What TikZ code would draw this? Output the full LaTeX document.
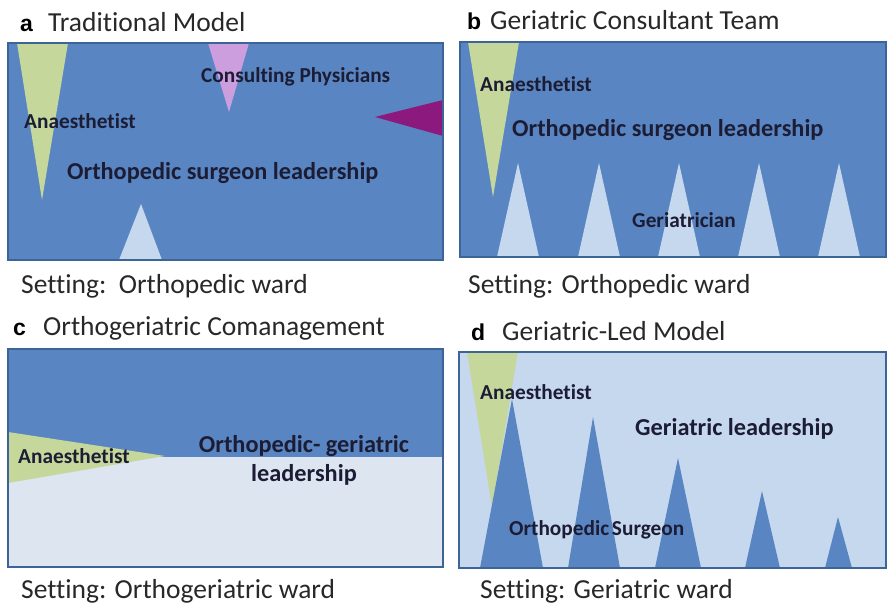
\documentclass[tikz,border=0pt]{standalone}
\usepackage{fontspec}
\setmainfont[Ligatures=NoCommon]{Carlito}
\newfontfamily\letterfont{Liberation Sans}
\definecolor{mblue}{RGB}{89,134,194}
\definecolor{bord}{RGB}{60,100,150}
\definecolor{lblue}{RGB}{198,216,238}
\definecolor{pale}{RGB}{221,229,241}
\definecolor{grn}{RGB}{197,215,155}
\definecolor{lav}{RGB}{204,158,222}
\definecolor{mag}{RGB}{140,26,126}
\definecolor{navy}{RGB}{28,28,52}
\definecolor{ttl}{RGB}{40,40,40}
\tikzset{
  panel/.style={draw=bord, line width=1.2pt},
  lab/.style={inner sep=0pt, anchor=base west, text=navy, font=\bfseries\fontsize{21.3}{24}\selectfont},
  big/.style={inner sep=0pt, anchor=base west, text=navy, font=\bfseries\fontsize{24.3}{28}\selectfont},
  ttlt/.style={inner sep=0pt, anchor=base west, text=ttl, font=\fontsize{27.5}{30}\selectfont},
  lett/.style={inner sep=0pt, anchor=base west, text=black, font=\letterfont\bfseries\fontsize{23}{26}\selectfont},
}
\begin{document}
\begin{tikzpicture}[x=1pt,y=-1pt]
\useasboundingbox (0,0) rectangle (887,607);
% ---------- panel a
\node[lett] (la) at (20,32) {a};
\node[ttlt] (ta) at (48,32) {Traditional Model};
\fill[mblue] (8,43) rectangle (443,260);
\fill[grn] (17,43) -- (68,43) -- (42,200) -- cycle;
\fill[lav] (208,43) -- (249,43) -- (229,112) -- cycle;
\fill[mag] (443,100) -- (443,136) -- (375,117) -- cycle;
\fill[lblue] (119,260) -- (162,260) -- (141,204) -- cycle;
\draw[panel] (8,43) rectangle (443,260);
\node[lab] (a1) at (24,129) {Anaesthetist};
\node[lab] (a2) at (201,83) {Consulting Physicians};
\node[big] (a3) at (67,180) {Orthopedic surgeon leadership};
\node[ttlt] (sa) at (21,293) {Setting:\ \ Orthopedic ward};
% ---------- panel b
\node[lett] (lb) at (467,30) {b};
\node[ttlt] (tb) at (490,30) {Geriatric Consultant Team};
\fill[mblue] (460,42) rectangle (886,257);
\fill[grn] (468,42) -- (519,42) -- (493,197) -- cycle;
\foreach \c in {518,599,679,759,839}
  \fill[lblue] (\c-21,257) -- (\c+21,257) -- (\c,163) -- cycle;
\draw[panel] (460,42) rectangle (886,257);
\node[lab] (b1) at (480,92) {Anaesthetist};
\node[big] (b2) at (512,137) {Orthopedic surgeon leadership};
\node[lab] (b3) at (632,228) {Geriatrician};
\node[ttlt] (sb) at (468,293) {Setting: Orthopedic ward};
% ---------- panel c
\node[lett] (lc) at (13,335) {c};
\node[ttlt] (tc) at (43,335) {Orthogeriatric Comanagement};
\fill[mblue] (8,349) rectangle (443,457);
\fill[pale] (8,457) rectangle (443,567);
\fill[grn] (8,432) -- (165,456) -- (8,483) -- cycle;
\draw[panel] (8,349) rectangle (443,567);
\node[lab] (c1) at (18,463) {Anaesthetist};
\node[big, anchor=base] (c2) at (304,452) {Orthopedic- geriatric};
\node[big, anchor=base] (c3) at (304,481) {leadership};
\node[ttlt] (sc) at (21,598) {Setting: Orthogeriatric ward};
% ---------- panel d
\node[lett] (ld) at (471,340) {d};
\node[ttlt] (td) at (502,340) {Geriatric-Led Model};
\fill[lblue] (459,352) rectangle (886,568);
\fill[grn] (467,352) -- (518,352) -- (492,507) -- cycle;
\fill[mblue] (480,568) -- (543,568) -- (512,399) -- cycle;
\fill[mblue] (568,568) -- (620,568) -- (593,417) -- cycle;
\fill[mblue] (655,568) -- (701,568) -- (678,458) -- cycle;
\fill[mblue] (745,568) -- (780,568) -- (762,491) -- cycle;
\fill[mblue] (825,568) -- (852,568) -- (838,517) -- cycle;
\draw[panel] (459,352) rectangle (886,568);
\node[lab] (d1) at (480,399) {Anaesthetist};
\node[big] (d2) at (635,435) {Geriatric leadership};
\node[lab] (d3) at (509,535) {Orthopedic\hspace{-2pt} Surgeon};
\node[ttlt] (sd) at (480,598) {Setting: Geriatric ward};
\end{tikzpicture}
\end{document}
